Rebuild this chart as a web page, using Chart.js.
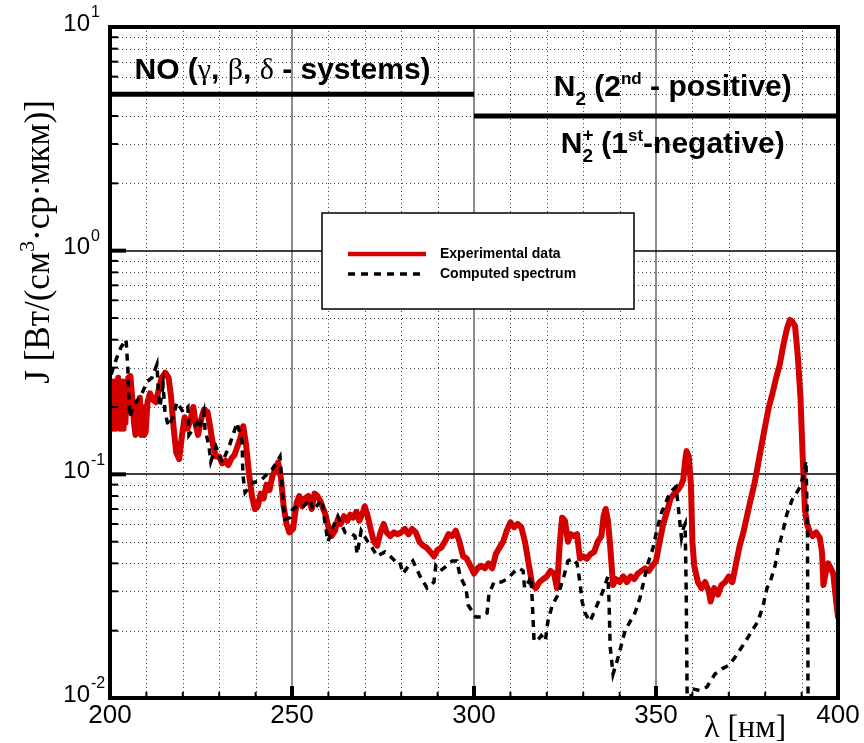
<!DOCTYPE html>
<html>
<head>
<meta charset="utf-8">
<script src="https://cdn.jsdelivr.net/npm/chart.js@4.4.0/dist/chart.umd.min.js"></script>
<style>
  html, body { margin: 0; padding: 0; background: #fff; }
  #wrap { position: relative; width: 864px; height: 743px; }
</style>
</head>
<body>
<div id="wrap"><canvas id="spectrum"></canvas></div>
<script>
// measured emission, wavelength in nm
const expWl = [
  200.0, 200.25, 200.5, 200.75, 201.0, 201.25, 201.5, 201.75, 202.0, 202.25,
  202.5, 202.75, 203.0, 203.25, 203.5, 203.75, 204.0, 204.25, 204.5, 204.75,
  205.0, 205.6, 206.1, 206.6, 207.0, 207.4, 207.8, 208.2, 208.6, 209.0,
  209.4, 209.8, 210.3, 211.0,
  211.8, 212.6, 213.4, 214.2, 215.2, 216.1, 216.8, 217.5, 218.2, 219.0,
  219.8, 220.5, 221.3, 222.1, 222.9, 223.6, 224.2, 225.0, 225.8, 226.8,
  227.6, 228.3, 229.1, 230.0, 230.8, 231.7, 232.5, 233.4, 234.2, 235.0,
  235.8, 236.6, 237.4, 238.2, 239.0, 239.8, 240.6, 241.4, 242.2, 243.0,
  243.8, 244.6, 245.4, 246.2, 247.0, 247.7, 248.5, 249.3, 250.3, 251.3,
  252.0, 252.8, 253.6, 254.5, 255.4, 256.2, 257.0, 257.8, 258.6, 259.2,
  260.0, 260.9, 261.8, 262.6, 263.4, 264.3, 265.2, 266.0, 266.8, 267.7,
  268.5, 269.4, 270.0, 270.8, 271.6, 272.5, 273.4, 274.3, 275.2, 276.0,
  277.0, 278.0, 279.0, 280.0, 281.0, 282.0, 283.0, 284.0, 285.0, 286.0,
  287.0, 288.0, 289.0, 290.0, 291.0, 292.0, 293.0, 294.0, 295.0, 296.0,
  297.0, 298.0, 299.0, 300.0, 301.0, 302.0, 303.0, 304.0, 305.0, 306.0,
  307.0, 308.0, 309.0, 310.0, 311.0, 312.0, 313.0, 314.0, 315.0, 316.0,
  317.0, 318.0, 319.0, 320.0, 321.0, 322.0, 322.8, 323.6, 324.2, 325.0,
  325.8, 326.5, 327.5, 328.3, 329.1, 330.0, 331.0, 332.0, 333.0, 334.0,
  335.0, 335.6, 336.2, 336.8, 337.4, 338.2, 339.0, 340.0, 341.0, 342.0,
  343.0, 344.0, 345.0, 346.0, 347.0, 348.0, 349.0, 350.0, 351.0, 352.0,
  353.0, 354.0, 355.0, 356.0, 357.0, 357.5, 358.0, 358.4, 359.0, 359.6,
  360.0, 360.5, 361.5, 362.5, 363.5, 364.5, 365.0, 366.0, 367.0, 368.0,
  369.0, 370.0, 371.0, 372.0, 373.0, 374.0, 375.0, 376.0, 377.0, 378.0,
  379.0, 380.0, 381.0, 382.0, 383.0, 384.0, 385.0, 386.0, 386.8, 387.5,
  388.2, 389.0, 389.7, 390.3, 390.9, 391.5, 392.3, 393.0, 394.0, 395.0,
  395.6, 396.0, 396.7, 397.3, 398.0, 398.7, 399.3, 400.0
];
const expJ = [
  0.21, 0.17, 0.24, 0.16, 0.26, 0.19, 0.16, 0.25, 0.18, 0.27,
  0.17, 0.16, 0.24, 0.17, 0.26, 0.16, 0.23, 0.17, 0.25, 0.19,
  0.27, 0.275, 0.22, 0.17, 0.15, 0.21, 0.16, 0.22, 0.15, 0.2,
  0.15, 0.155, 0.21, 0.23,
  0.215, 0.21, 0.24, 0.27, 0.285, 0.27, 0.22, 0.16, 0.125, 0.117,
  0.15, 0.18, 0.16, 0.175, 0.2, 0.165, 0.15, 0.175, 0.195, 0.19,
  0.16, 0.135, 0.12, 0.12, 0.112, 0.115, 0.11, 0.118, 0.122, 0.133,
  0.145, 0.164, 0.135, 0.10, 0.08, 0.07, 0.072, 0.082, 0.078, 0.09,
  0.085, 0.098, 0.105, 0.113, 0.095, 0.072, 0.06, 0.055, 0.057, 0.075,
  0.08, 0.072, 0.078, 0.08, 0.07, 0.082, 0.08, 0.076, 0.07, 0.066,
  0.058, 0.053, 0.056, 0.063, 0.06, 0.065, 0.062, 0.066, 0.064, 0.068,
  0.062, 0.067, 0.072, 0.065, 0.057, 0.05, 0.048, 0.055, 0.06, 0.055,
  0.053, 0.055, 0.054, 0.055, 0.057, 0.054, 0.057, 0.055, 0.05, 0.048,
  0.047, 0.045, 0.043, 0.046, 0.047, 0.05, 0.054, 0.053, 0.056, 0.05,
  0.043, 0.042, 0.039, 0.036, 0.038, 0.039, 0.038, 0.040, 0.038, 0.044,
  0.047, 0.05, 0.056, 0.061, 0.058, 0.06, 0.058, 0.05, 0.04, 0.032,
  0.031, 0.033, 0.034, 0.035, 0.037, 0.036, 0.031, 0.05, 0.064, 0.062,
  0.05, 0.054, 0.053, 0.054, 0.042, 0.043, 0.042, 0.044, 0.045, 0.05,
  0.053, 0.065, 0.07, 0.062, 0.048, 0.032, 0.034, 0.033, 0.035, 0.033,
  0.035, 0.034, 0.036, 0.037, 0.038, 0.037, 0.039, 0.041, 0.05, 0.06,
  0.068, 0.078, 0.082, 0.085, 0.09, 0.095, 0.115, 0.127, 0.12, 0.09,
  0.05, 0.039, 0.033, 0.031, 0.033, 0.03, 0.027, 0.031, 0.029, 0.032,
  0.033, 0.035, 0.033, 0.04, 0.048, 0.055, 0.065, 0.077, 0.09, 0.11,
  0.135, 0.165, 0.2, 0.23, 0.27, 0.31, 0.38, 0.45, 0.49, 0.48,
  0.46, 0.33, 0.22, 0.12, 0.07, 0.06, 0.055, 0.053, 0.055, 0.052,
  0.045, 0.032, 0.037, 0.04, 0.038, 0.036, 0.029, 0.023
];

// calculated spectrum, wavelength in nm
const calcWl = [
  200.3, 201.8, 203.0, 204.4, 204.9, 205.2, 205.5, 206.3, 208.8, 210.2,
  211.5, 212.9, 213.2, 213.7, 214.6, 215.1, 216.0, 217.3, 218.4, 220.1,
  221.4, 221.7, 223.9, 224.5, 225.8, 226.1, 227.2, 227.7, 229.1, 230.8,
  232.7, 234.9, 236.3, 236.5, 237.1, 239.3, 241.2, 243.1, 244.5, 246.7,
  247.3, 247.5, 248.1, 249.5, 250.3, 251.5, 252.7, 254.0, 254.9, 255.8,
  257.0, 258.2, 259.1, 259.9, 261.2, 262.6, 264.6, 266.5, 267.3, 267.9,
  269.0, 270.8, 272.0, 273.4, 275.5, 277.0, 278.3, 279.5, 280.5, 282.0,
  283.2, 285.2, 287.1, 289.0, 289.5, 290.7, 292.5, 294.0, 295.3, 296.2,
  297.8, 298.4, 300.5, 302.0, 303.6, 304.1, 305.5, 307.5, 309.1, 311.3,
  312.5, 313.5, 313.9, 315.0, 315.7, 316.1, 316.5, 317.3, 318.5, 319.6,
  320.3, 321.5, 323.1, 324.7, 325.8, 327.2, 328.3, 329.1, 329.7, 330.5,
  331.9, 333.8, 335.4, 336.8, 337.1, 337.4, 338.2, 339.5, 341.5, 344.2,
  345.6, 346.4, 347.8, 349.2, 350.3, 351.6, 353.3, 354.5, 355.5, 356.0,
  356.5, 357.0, 357.6, 358.0, 358.3, 358.6, 359.4, 359.9, 362.0, 364.0,
  366.2, 368.1, 370.0, 371.7, 374.5, 376.4, 378.0, 379.4, 380.5, 381.6,
  382.7, 383.5, 384.9, 385.9, 387.4, 388.7, 389.6, 390.4, 391.2, 391.6,
  391.8
];
const calcJ = [
  0.28, 0.33, 0.37, 0.40, 0.30, 0.21, 0.18, 0.20, 0.23, 0.26,
  0.27, 0.31, 0.25, 0.20, 0.25, 0.19, 0.164, 0.18, 0.21, 0.19,
  0.20, 0.15, 0.17, 0.16, 0.19, 0.16, 0.133, 0.114, 0.133, 0.113,
  0.133, 0.17, 0.14, 0.10, 0.083, 0.092, 0.093, 0.10, 0.105, 0.12,
  0.088, 0.075, 0.063, 0.064, 0.07, 0.072, 0.071, 0.074, 0.077, 0.069,
  0.073, 0.077, 0.06, 0.05, 0.058, 0.065, 0.055, 0.054, 0.053, 0.044,
  0.056, 0.05, 0.047, 0.043, 0.045, 0.043, 0.041, 0.041, 0.036, 0.039,
  0.041, 0.035, 0.031, 0.033, 0.039, 0.037, 0.039, 0.041, 0.041, 0.035,
  0.031, 0.026, 0.023, 0.023, 0.024, 0.029, 0.033, 0.033, 0.034, 0.037,
  0.038, 0.037, 0.031, 0.033, 0.035, 0.025, 0.018, 0.018, 0.019, 0.018,
  0.022, 0.026, 0.029, 0.035, 0.041, 0.042, 0.040, 0.033, 0.027, 0.024,
  0.022, 0.026, 0.030, 0.035, 0.027, 0.017, 0.0128, 0.015, 0.020, 0.024,
  0.028, 0.032, 0.040, 0.047, 0.057, 0.068, 0.079, 0.085, 0.088, 0.075,
  0.062, 0.052, 0.058, 0.060, 0.03, 0.008, 0.0095, 0.011, 0.0108, 0.0112,
  0.0128, 0.0135, 0.014, 0.0152, 0.0178, 0.020, 0.022, 0.0258, 0.031, 0.034,
  0.039, 0.046, 0.056, 0.066, 0.077, 0.083, 0.088, 0.098, 0.115, 0.06,
  0.008
];

const xTickValues = [200, 250, 300, 350, 400];
const yTickExponents = [-2, -1, 0, 1];

// emission systems: wavelength span and level of the marker bar
const noSpan = [200, 300];
const noLevel = 5;
const n2Span = [300, 400];
const n2Level = 4;

const SANS = '"Liberation Sans", Arial, sans-serif';
const SERIF = '"Liberation Serif", "Times New Roman", serif';

// runs are [text, font, dy, noAdvance], drawn one after another
function runsWidth(ctx, runs) {
  let total = 0;
  runs.forEach(r => { ctx.font = r[1]; if (!r[3]) total += ctx.measureText(r[0]).width; });
  return total;
}
function drawRuns(ctx, runs, x, y, align) {
  const total = runsWidth(ctx, runs);
  let cx = align === 'center' ? x - total / 2 : x;
  ctx.textAlign = 'left';
  runs.forEach(r => {
    ctx.font = r[1];
    ctx.fillText(r[0], cx, y + (r[2] || 0));
    if (!r[3]) cx += ctx.measureText(r[0]).width;
  });
}

function seg(ctx, x1, y1, x2, y2) {
  ctx.beginPath(); ctx.moveTo(x1, y1); ctx.lineTo(x2, y2); ctx.stroke();
}

const gridPlugin = {
  id: 'gridPlugin',
  beforeDatasetsDraw(chart) {
    const { ctx, chartArea: a, scales: { x, y } } = chart;
    ctx.save();
    // dotted minor grid
    ctx.strokeStyle = '#444';
    ctx.lineWidth = 1;
    ctx.setLineDash([1, 3]);
    for (let w = 210; w < 400; w += 10) {
      if (w % 50 === 0) continue;
      const px = Math.round(x.getPixelForValue(w)) + 0.5;
      seg(ctx, px, a.top, px, a.bottom);
    }
    for (let e = -2; e < 1; e++) {
      for (let m = 2; m <= 9; m++) {
        const py = Math.round(y.getPixelForValue(m * Math.pow(10, e))) + 0.5;
        seg(ctx, a.left, py, a.right, py);
      }
    }
    ctx.setLineDash([]);
    // solid major grid
    ctx.strokeStyle = '#666';
    ctx.lineWidth = 1.5;
    [250, 300, 350].forEach(w => {
      const px = Math.round(x.getPixelForValue(w));
      seg(ctx, px, a.top, px, a.bottom);
    });
    ctx.strokeStyle = '#000';
    ctx.lineWidth = 1.5;
    [0.1, 1].forEach(v => {
      const py = Math.round(y.getPixelForValue(v));
      seg(ctx, a.left, py, a.right, py);
    });
    ctx.restore();
  },
  afterDatasetsDraw(chart) {
    const { ctx, chartArea: a, scales: { x, y } } = chart;
    ctx.save();
    ctx.fillStyle = '#000';
    ctx.strokeStyle = '#000';

    // band markers
    ctx.lineWidth = 5;
    let py = y.getPixelForValue(noLevel);
    seg(ctx, x.getPixelForValue(noSpan[0]), py, x.getPixelForValue(noSpan[1]), py);
    py = y.getPixelForValue(n2Level);
    seg(ctx, x.getPixelForValue(n2Span[0]), py, x.getPixelForValue(n2Span[1]), py);

    ctx.textBaseline = 'alphabetic';
    const B = 'bold 30px ' + SANS, S = '30px ' + SERIF;
    const sub = 'bold 19px ' + SANS, sup = 'bold 17px ' + SANS;
    drawRuns(ctx, [
      ['NO (', B], ['γ', S], [', ', B], ['β', S], [', ', B], ['δ', S], [' - systems)', B]
    ], x.getPixelForValue(247.4), y.getPixelForValue(noLevel) - 15, 'center');
    drawRuns(ctx, [
      ['N', B], ['2', sub, 9], [' (2', B], ['nd', sup, -12], [' - positive)', B]
    ], x.getPixelForValue(354.6), y.getPixelForValue(n2Level) - 20, 'center');
    drawRuns(ctx, [
      ['N', B], ['+', sub, -12, true], ['2', sub, 9], [' (1', B], ['st', sup, -12], ['-negative)', B]
    ], x.getPixelForValue(354.6), y.getPixelForValue(n2Level) + 37, 'center');

    // legend box
    const lx = 322, ly = 213, lw = 312, lh = 96;
    ctx.fillStyle = '#fff';
    ctx.fillRect(lx, ly, lw, lh);
    ctx.lineWidth = 1.5;
    ctx.strokeRect(lx, ly, lw, lh);
    ctx.fillStyle = '#000';
    ctx.textBaseline = 'middle';
    chart.data.datasets.forEach(ds => {
      const yy = ly + 41 + ds.legendRow * 20;
      ctx.strokeStyle = ds.borderColor;
      ctx.lineWidth = ds.legendRow === 0 ? 4.5 : 3.5;
      ctx.setLineDash(ds.borderDash || []);
      seg(ctx, lx + 26, yy, lx + 104, yy);
      ctx.setLineDash([]);
      ctx.font = 'bold 14px ' + SANS;
      ctx.textAlign = 'left';
      ctx.fillText(ds.label, lx + 118, yy);
    });

    // frame
    ctx.strokeStyle = '#000';
    ctx.lineWidth = 4;
    ctx.strokeRect(a.left, a.top, a.right - a.left, a.bottom - a.top);

    // bottom ticks
    for (let w = 210; w < 400; w += 10) {
      const px = x.getPixelForValue(w);
      const major = w % 50 === 0;
      ctx.lineWidth = major ? 4 : 2;
      seg(ctx, px, a.bottom, px, a.bottom - (major ? 12 : 6));
    }
    // left ticks
    for (let e = -2; e < 1; e++) {
      for (let m = 1; m <= 9; m++) {
        const v = m * Math.pow(10, e);
        if (e === -2 && m === 1) continue;
        const yy = y.getPixelForValue(v);
        ctx.lineWidth = m === 1 ? 4 : 2;
        seg(ctx, a.left, yy, a.left + (m === 1 ? 16 : 8), yy);
      }
    }

    // tick labels
    ctx.fillStyle = '#000';
    ctx.textBaseline = 'top';
    ctx.textAlign = 'center';
    ctx.font = '26px ' + SANS;
    xTickValues.forEach(v => ctx.fillText(String(v), x.getPixelForValue(v), a.bottom + 5));
    yTickExponents.forEach(e => {
      const yy = y.getPixelForValue(Math.pow(10, e));
      ctx.textBaseline = 'middle';
      ctx.textAlign = 'right';
      ctx.font = '24px ' + SANS;
      ctx.fillText('10', 90, yy - 3);
      ctx.textAlign = 'left';
      ctx.font = '16px ' + SANS;
      ctx.fillText(String(e), 91, yy - 14);
    });

    // axis titles
    ctx.textBaseline = 'alphabetic';
    ctx.fillStyle = '#000';
    const T = '35px ' + SERIF, Tsup = '22px ' + SERIF;
    drawRuns(ctx, [['λ [нм]', '32px ' + SERIF]], 745, a.bottom + 39, 'center');
    const yTitle = [['J [Вт/(см', T], ['3', Tsup, -15], ['·ср·мкм)]', T]];
    const len = runsWidth(ctx, yTitle);
    ctx.translate(49, 100 + len / 2);
    ctx.rotate(-Math.PI / 2);
    drawRuns(ctx, yTitle, 0, 0, 'center');
    ctx.restore();
  }
};

new Chart(document.getElementById('spectrum'), {
  type: 'line',
  data: {
    datasets: [
      {
        label: 'Computed spectrum',
        legendRow: 1,
        data: calcWl.map((w, i) => ({ x: w, y: calcJ[i] })),
        borderColor: '#000',
        borderWidth: 3.5,
        borderDash: [7, 6],
        pointRadius: 0,
        order: 0
      },
      {
        label: 'Experimental data',
        legendRow: 0,
        data: expWl.map((w, i) => ({ x: w, y: expJ[i] })),
        borderColor: 'rgb(212,0,0)',
        borderWidth: 6,
        borderJoinStyle: 'round',
        borderCapStyle: 'round',
        pointRadius: 0,
        order: 1
      }
    ]
  },
  options: {
    responsive: true,
    maintainAspectRatio: false,
    animation: false,
    events: [],
    layout: { padding: { left: 110, right: 26, top: 27, bottom: 45 } },
    plugins: { legend: { display: false }, tooltip: { enabled: false } },
    scales: {
      x: {
        type: 'linear', min: 200, max: 400,
        ticks: { display: false },
        grid: { display: false, drawTicks: false },
        border: { display: false }
      },
      y: {
        type: 'logarithmic', min: 0.01, max: 10,
        ticks: { display: false },
        grid: { display: false, drawTicks: false },
        border: { display: false }
      }
    }
  },
  plugins: [gridPlugin]
});
</script>
</body>
</html>
